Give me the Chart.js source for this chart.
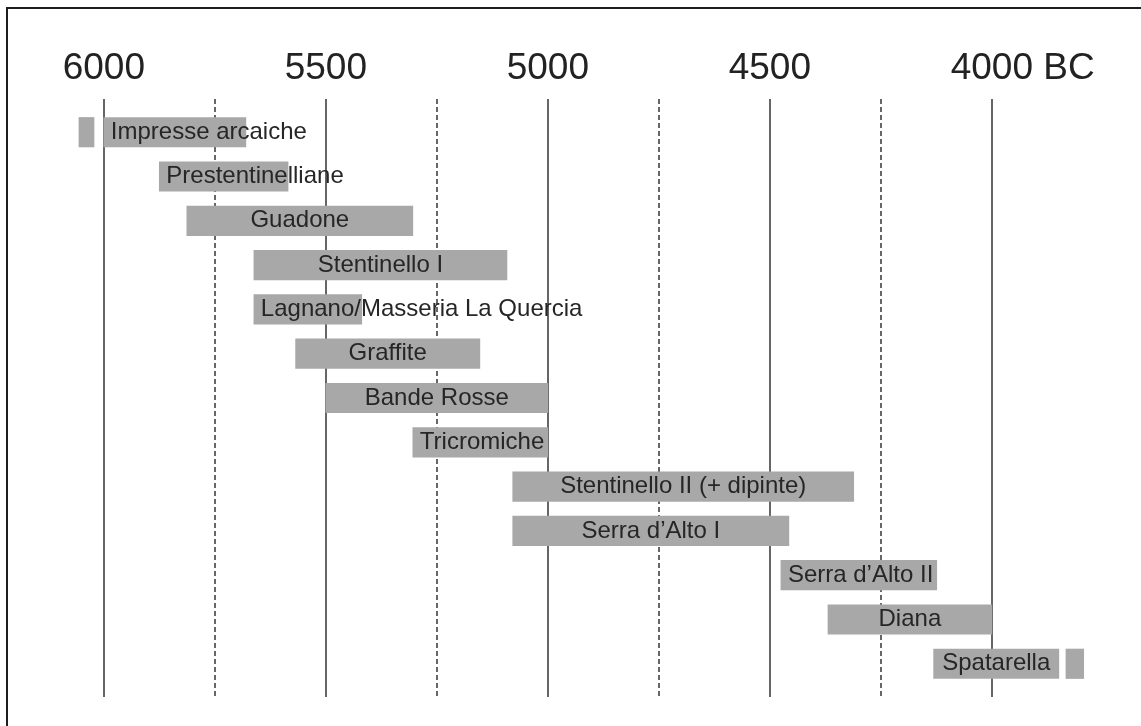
<!DOCTYPE html>
<html lang="it">
<head>
    <meta charset="UTF-8">
    <title>Cronologia del Neolitico</title>
    <style>
        body {
            margin: 0;
            background-color: #fff;
            font-family: "Liberation Sans", Arial, sans-serif;
        }

        .chart-box {
            position: relative;
            width: 1141px;
            height: 726px;
        }

        .frame {
            position: absolute;
            left: 6px;
            top: 7px;
            right: 0;
            bottom: 0;
            border-left: 2px solid #1e1e1e;
            border-top: 2px solid #1e1e1e;
            pointer-events: none;
        }
    </style>
    <script src="https://cdn.jsdelivr.net/npm/chart.js"></script>
</head>
<body>

    <div class="chart-box">
        <canvas id="timeline"></canvas>
        <div class="frame"></div>
    </div>

    <script>
        // facies, top to bottom
        var phases = [
            'Impresse arcaiche',
            'Prestentinelliane',
            'Guadone',
            'Stentinello I',
            'Lagnano/Masseria La Quercia',
            'Graffite',
            'Bande Rosse',
            'Tricromiche',
            'Stentinello II (+ dipinte)',
            'Serra d\u2019Alto I',
            'Serra d\u2019Alto II',
            'Diana',
            'Spatarella'
        ];

        // years BC (start, end)
        var phaseStart = [6000, 5875, 5813, 5662, 5662, 5568, 5500, 5304, 5079, 5079, 4475, 4369, 4131];
        var phaseEnd   = [5680, 5585, 5304, 5092, 5419, 5153, 5000, 5000, 4311, 4457, 4124, 4000, 3849];

        // small detached blocks before/after the main span
        var extraRow   = [0, 12];
        var extraStart = [6056, 3833];
        var extraEnd   = [6022, 3793];

        var yearTicks = [6000, 5750, 5500, 5250, 5000, 4750, 4500, 4250, 4000];
        var yearLabels = ['6000', '', '5500', '', '5000', '', '4500', '', '      4000 BC'];

        var mainBars = phases.map(function (p, i) {
            return { y: i, x: [phaseStart[i], phaseEnd[i]] };
        });
        var extraBars = extraRow.map(function (r, i) {
            return { y: r, x: [extraStart[i], extraEnd[i]] };
        });

        var barText = {
            id: 'barText',
            afterDatasetsDraw: function (chart) {
                var ctx = chart.ctx;
                var meta = chart.getDatasetMeta(0);
                ctx.save();
                ctx.font = '24px "Liberation Sans", Arial, sans-serif';
                ctx.fillStyle = '#262626';
                ctx.textBaseline = 'middle';
                meta.data.forEach(function (bar, i) {
                    var left = Math.min(bar.x, bar.base);
                    var right = Math.max(bar.x, bar.base);
                    var w = ctx.measureText(phases[i]).width;
                    if (w + 14 > right - left) {
                        ctx.textAlign = 'left';
                        ctx.fillText(phases[i], left + 7, bar.y);
                    } else {
                        ctx.textAlign = 'center';
                        ctx.fillText(phases[i], (left + right) / 2, bar.y);
                    }
                });
                ctx.restore();
            }
        };

        var ctx = document.getElementById('timeline').getContext('2d');
        var chart = new Chart(ctx, {
            type: 'bar',
            data: {
                datasets: [{
                    data: mainBars,
                    backgroundColor: '#a8a8a8'
                }, {
                    data: extraBars,
                    backgroundColor: '#a8a8a8'
                }]
            },
            options: {
                indexAxis: 'y',
                responsive: true,
                maintainAspectRatio: false,
                animation: false,
                grouped: false,
                barThickness: 29.5,
                layout: {
                    padding: { left: 15, right: 16, top: 38.6, bottom: 29 }
                },
                plugins: {
                    legend: { display: false },
                    tooltip: { enabled: false }
                },
                scales: {
                    x: {
                        type: 'linear',
                        position: 'top',
                        reverse: true,
                        min: 3700,
                        max: 6200,
                        z: 1,
                        afterBuildTicks: function (axis) {
                            axis.ticks = yearTicks.map(function (v) { return { value: v }; });
                        },
                        ticks: {
                            padding: 8,
                            maxRotation: 0,
                            autoSkip: false,
                            color: '#222',
                            font: { family: '"Liberation Sans", Arial, sans-serif', size: 37 },
                            callback: function (value, index) {
                                return yearLabels[index];
                            }
                        },
                        grid: {
                            drawTicks: false,
                            color: '#666',
                            lineWidth: 2
                        },
                        border: {
                            display: false,
                            dash: function (c) {
                                return c.index % 2 === 1 ? [5, 3] : [];
                            }
                        }
                    },
                    y: {
                        type: 'linear',
                        reverse: true,
                        offset: false,
                        min: -0.75,
                        max: 12.75,
                        display: false
                    }
                }
            },
            plugins: [barText]
        });
    </script>

</body>
</html>
